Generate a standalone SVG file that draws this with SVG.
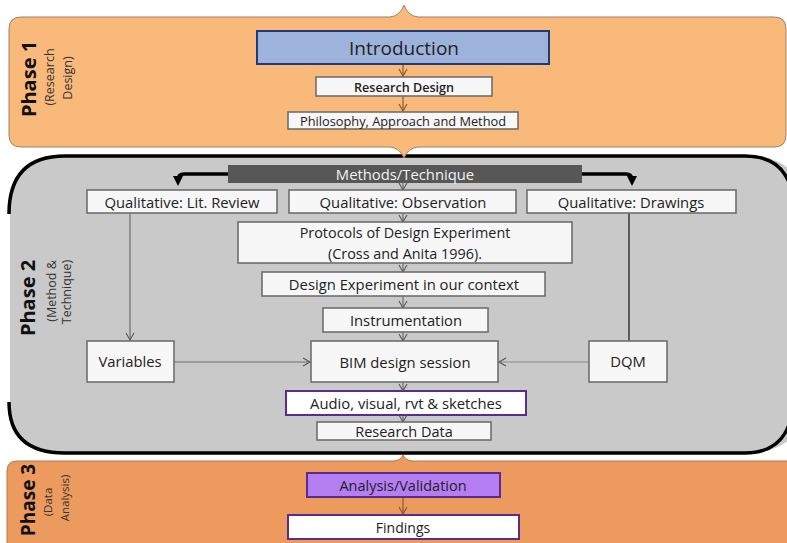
<svg xmlns="http://www.w3.org/2000/svg" width="787" height="543" viewBox="0 0 787 543">
  <style>
    text { font-family: "Open Sans", "Noto Sans", "Liberation Sans", sans-serif; fill: #222; }
    .box { fill: #F7F7F7; stroke: #6E6E6E; stroke-width: 1.6; }
    .purple { fill: #FFFFFF; stroke: #5B2C8F; stroke-width: 2; }
    .lbl { font-size: 14.8px; text-anchor: middle; dominant-baseline: central; }
    .sm { font-size: 12.6px; text-anchor: middle; dominant-baseline: central; }
    .phase { font-size: 20px; font-weight: bold; text-anchor: middle; dominant-baseline: central; fill: #111; }
    .sub { font-size: 12.5px; text-anchor: middle; dominant-baseline: central; fill: #333; }
    .thin { stroke: #6E6E6E; stroke-width: 1.2; fill: none; }
    .brown { stroke: #8A5A2B; stroke-width: 1.2; fill: none; }
    .thick { stroke: #000; stroke-width: 3.5; fill: none; }
  </style>
  <defs>
    <marker id="vhead" markerWidth="10" markerHeight="10" refX="8" refY="5" orient="auto" markerUnits="userSpaceOnUse">
      <path d="M1,1 L8,5 L1,9" fill="none" stroke="#555" stroke-width="1.1"/>
    </marker>
    <marker id="vbrown" markerWidth="10" markerHeight="10" refX="8" refY="5" orient="auto" markerUnits="userSpaceOnUse">
      <path d="M1,1 L8,5 L1,9" fill="none" stroke="#8A5A2B" stroke-width="1.2"/>
    </marker>
    <marker id="bold" markerWidth="12" markerHeight="12" refX="6" refY="6" orient="auto" markerUnits="userSpaceOnUse">
      <path d="M0,1 L10,6 L0,11 Z" fill="#000"/>
    </marker>
  </defs>

  <rect width="787" height="543" fill="#FFFFFF"/>

  <!-- Phase 3 panel -->
  <g id="phase3">
    <path d="M7,471 Q7,461 17,461 L394,461 Q401,460 403,455 Q405,460 412,461 L800,461 L800,560 L7,560 Z" fill="#EC9A5D" stroke="#B07A52" stroke-width="1"/>
    <text class="phase" transform="rotate(-90 28 500)" x="28" y="500" style="font-size:19px">Phase 3</text>
    <text class="sub" transform="rotate(-90 47 502)" x="47" y="502" style="font-size:11.5px">(Data</text>
    <text class="sub" transform="rotate(-90 64 498)" x="64" y="498" style="font-size:11.5px">Analysis)</text>
  </g>

  <!-- Phase 2 panel -->
  <g id="phase2">
    <path d="M10,210 Q10,155 65,155 L745,155 Q787,155 800,185 L800,425 Q787,453 745,453 L65,453 Q10,453 10,405 Z" fill="#C9C9C9"/>
    <path class="thick" d="M9,214 Q9,156 65,156 L745,156 Q780,156 790,185"/>
    <path class="thick" d="M9,402 Q9,453 65,453 L745,453 Q780,453 790,422"/>
    <text class="phase" transform="rotate(-90 27 298)" x="27" y="298">Phase 2</text>
    <text class="sub" transform="rotate(-90 51 291)" x="51" y="291">(Method &amp;</text>
    <text class="sub" transform="rotate(-90 66 292)" x="66" y="292">Technique)</text>
  </g>

  <!-- Phase 1 panel -->
  <g id="phase1">
    <path d="M9,29 Q9,17 21,17 L390,17 Q400,16 404,5 Q408,16 418,17 L774,17 Q786,17 786,29 L786,135 Q786,147 774,147 L418,147 Q408,148 404,158 Q400,148 390,147 L21,147 Q9,147 9,135 Z" fill="#F8B97B" stroke="#A08068" stroke-width="1"/>
    <text class="phase" transform="rotate(-90 28 79)" x="28" y="79">Phase 1</text>
    <text class="sub" transform="rotate(-90 49 77)" x="49" y="77">(Research</text>
    <text class="sub" transform="rotate(-90 67 78)" x="67" y="78">Design)</text>
  </g>

  <!-- connectors -->
  <g id="connectors">
    <line class="brown" x1="403" y1="64" x2="403" y2="76" marker-end="url(#vbrown)"/>
    <line class="brown" x1="403" y1="96" x2="403" y2="111" marker-end="url(#vbrown)"/>
    <path class="thick" d="M228,174 L184,174 Q178,174 178,180 L178,182" marker-end="url(#bold)"/>
    <path class="thick" d="M582,174 L626,174 Q632,174 632,180 L632,182" marker-end="url(#bold)"/>
    <line class="thin" x1="403" y1="183" x2="403" y2="190" marker-end="url(#vhead)"/>
    <line class="thin" x1="403" y1="213" x2="403" y2="222" marker-end="url(#vhead)"/>
    <line class="thin" x1="403" y1="263" x2="403" y2="272" marker-end="url(#vhead)"/>
    <line class="thin" x1="403" y1="296" x2="403" y2="308" marker-end="url(#vhead)"/>
    <line class="thin" x1="403" y1="332" x2="403" y2="341" marker-end="url(#vhead)"/>
    <line class="thin" x1="403" y1="382" x2="403" y2="391" marker-end="url(#vhead)"/>
    <line class="thin" x1="403" y1="415" x2="403" y2="422" marker-end="url(#vhead)"/>
    <line class="thin" x1="130" y1="213" x2="130" y2="340" marker-end="url(#vhead)"/>
    <line class="thin" x1="174" y1="362" x2="310" y2="362" marker-end="url(#vhead)"/>
    <line x1="629" y1="213" x2="629" y2="341" stroke="#111" stroke-width="1.2"/>
    <line x1="589" y1="362" x2="499" y2="362" stroke="#8A8A8A" stroke-width="1.2" marker-end="url(#vhead)"/>
    <line class="brown" x1="403" y1="497" x2="403" y2="514" marker-end="url(#vbrown)"/>
  </g>

  <!-- Phase 1 nodes -->
  <g id="introduction">
    <rect x="257" y="31" width="292" height="33" fill="#9DB3DB" stroke="#1F3A78" stroke-width="2"/>
    <text class="lbl" x="404" y="48" style="font-size:19px">Introduction</text>
  </g>
  <g id="research-design">
    <rect class="box" x="316" y="77" width="176" height="19" stroke="#A8A8A8"/>
    <text class="sm" x="404" y="87" style="font-weight:600">Research Design</text>
  </g>
  <g id="philosophy">
    <rect class="box" x="288" y="112" width="230" height="17" stroke="#555"/>
    <text class="sm" x="403" y="121" style="font-size:12.8px">Philosophy, Approach and Method</text>
  </g>

  <!-- Phase 2 nodes -->
  <g id="methods-technique">
    <rect x="228" y="165" width="354" height="18" fill="#575757"/>
    <text class="lbl" x="405" y="174" style="fill:#F2F2F2">Methods/Technique</text>
  </g>
  <g id="lit-review">
    <rect class="box" x="87" y="190" width="190" height="23"/>
    <text class="lbl" x="182" y="202">Qualitative: Lit. Review</text>
  </g>
  <g id="observation">
    <rect class="box" x="289" y="190" width="227" height="23"/>
    <text class="lbl" x="403" y="202">Qualitative: Observation</text>
  </g>
  <g id="drawings">
    <rect class="box" x="527" y="190" width="209" height="23"/>
    <text class="lbl" x="631" y="202">Qualitative: Drawings</text>
  </g>
  <g id="protocols">
    <rect class="box" x="238" y="222" width="334" height="41"/>
    <text class="lbl" x="405" y="232" style="font-size:14.4px">Protocols of Design Experiment</text>
    <text class="lbl" x="405" y="253" style="font-size:14.4px">(Cross and Anita 1996).</text>
  </g>
  <g id="design-experiment">
    <rect class="box" x="262" y="272" width="283" height="24"/>
    <text class="lbl" x="404" y="284">Design Experiment in our context</text>
  </g>
  <g id="instrumentation">
    <rect class="box" x="323" y="308" width="165" height="24"/>
    <text class="lbl" x="406" y="320">Instrumentation</text>
  </g>
  <g id="variables">
    <rect class="box" x="87" y="341" width="87" height="41"/>
    <text class="lbl" x="130" y="361">Variables</text>
  </g>
  <g id="bim-session">
    <rect class="box" x="311" y="341" width="187" height="41"/>
    <text class="lbl" x="405" y="362">BIM design session</text>
  </g>
  <g id="dqm">
    <rect class="box" x="589" y="341" width="78" height="41"/>
    <text class="lbl" x="628" y="361">DQM</text>
  </g>
  <g id="audio-visual">
    <rect class="purple" x="286" y="391" width="240" height="24"/>
    <text class="lbl" x="406" y="403">Audio, visual, rvt &amp; sketches</text>
  </g>
  <g id="research-data">
    <rect class="box" x="317" y="422" width="174" height="18"/>
    <text class="sm" x="404" y="431" style="font-size:14.5px">Research Data</text>
  </g>

  <!-- Phase 3 nodes -->
  <g id="analysis">
    <rect x="307" y="473" width="193" height="24" fill="#B47EF2" stroke="#5B2C8F" stroke-width="2"/>
    <text class="lbl" x="403" y="485" style="font-size:14.5px">Analysis/Validation</text>
  </g>
  <g id="findings">
    <rect class="purple" x="288" y="515" width="231" height="24"/>
    <text class="lbl" x="403" y="527" style="font-size:14px">Findings</text>
  </g>
</svg>
